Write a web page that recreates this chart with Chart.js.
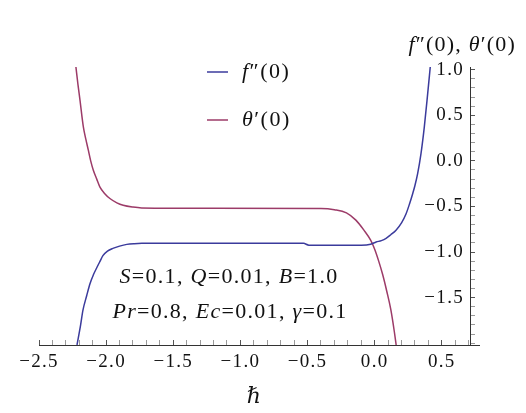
<!DOCTYPE html>
<html>
<head>
<meta charset="utf-8">
<script src="https://cdn.jsdelivr.net/npm/chart.js@4.4.0/dist/chart.umd.min.js"></script>
<style>
html, body { margin: 0; padding: 0; background: #fff; }
#wrap { width: 526px; height: 413px; position: relative; }
</style>
</head>
<body>
<div id="wrap"><canvas id="chart"></canvas></div>
<script>
// values
var seriesNames = ["f''(0)", "θ'(0)"];
var fppX = [-2.217, -2.19, -2.173, -2.145, -2.121, -2.095, -2.069, -2.045, -2.024, -1.99, -1.95, -1.9, -1.846, -1.79, -1.734, -1.2, -0.53, -0.49, -0.1, -0.03, 0.011, 0.05, 0.085, 0.12, 0.159, 0.2, 0.234, 0.26, 0.283, 0.3, 0.32, 0.345, 0.37, 0.395, 0.414];
var fppY = [-2.02, -1.80, -1.64, -1.48, -1.35, -1.25, -1.17, -1.10, -1.04, -0.99, -0.96, -0.935, -0.916, -0.908, -0.905, -0.903, -0.905, -0.925, -0.925, -0.915, -0.89, -0.875, -0.85, -0.81, -0.76, -0.68, -0.58, -0.47, -0.36, -0.27, -0.14, 0.08, 0.376, 0.74, 1.03];
var thetaX = [-2.225, -2.21, -2.195, -2.17, -2.15, -2.133, -2.115, -2.096, -2.07, -2.047, -2.01, -1.972, -1.92, -1.873, -1.8, -1.736, -1.2, -0.4, -0.3, -0.21, -0.14, -0.08, -0.03, 0.0, 0.03, 0.06, 0.09, 0.12, 0.147, 0.16];
var thetaY = [1.03, 0.84, 0.67, 0.376, 0.23, 0.12, 0.0, -0.10, -0.2, -0.285, -0.36, -0.413, -0.46, -0.487, -0.507, -0.516, -0.52, -0.522, -0.535, -0.57, -0.65, -0.76, -0.87, -0.97, -1.10, -1.25, -1.43, -1.63, -1.88, -2.02];
var xMajor = [-2.5, -2.0, -1.5, -1.0, -0.5, 0.0, 0.5];
var yMajor = [-1.5, -1.0, -0.5, 0.0, 0.5, 1.0];

var SERIF = '"Liberation Serif", "DejaVu Serif", serif';
var BLUE = '#3b3b9c';
var RED = '#9c3b68';

function pts(xs, ys) {
  return xs.map(function (x, i) { return {x: x, y: ys[i]}; });
}
function isMajor(list, v) {
  return list.some(function (m) { return Math.abs(m - v) < 1e-6; });
}
function fmt(v) {
  var s = Math.abs(v).toFixed(1);
  return v < -1e-9 ? '\u2212' + s : s;
}

// mixed italic / upright text
function rich(ctx, parts, x, y, size, align, spacing) {
  ctx.letterSpacing = spacing + 'px';
  var w = 0;
  parts.forEach(function (p) {
    ctx.font = (p[1] ? 'italic ' : '') + size + 'px ' + SERIF;
    w += ctx.measureText(p[0]).width;
  });
  var cx = align === 'center' ? x - w / 2 : (align === 'right' ? x - w : x);
  ctx.textAlign = 'left';
  ctx.textBaseline = 'middle';
  ctx.fillStyle = '#111';
  parts.forEach(function (p) {
    ctx.font = (p[1] ? 'italic ' : '') + size + 'px ' + SERIF;
    ctx.fillText(p[0], cx, y);
    cx += ctx.measureText(p[0]).width;
  });
}

var labelsPlugin = {
  id: 'labels',
  beforeDraw: function (chart) {
    // wider set for the tick numbers
    chart.ctx.letterSpacing = '1.3px';
  },
  afterDraw: function (chart) {
    var ctx = chart.ctx, a = chart.chartArea;
    ctx.save();
    // x axis runs a little past the vertical axis
    ctx.strokeStyle = '#333';
    ctx.lineWidth = 1;
    ctx.beginPath();
    ctx.moveTo(a.right, a.bottom + 0.5);
    ctx.lineTo(a.right + 10, a.bottom + 0.5);
    ctx.stroke();

    // legend
    var legendParts = [[['f', 1], ['\u2033(0)', 0]], [['\u03b8', 1], ['\u2032(0)', 0]]];
    chart.data.datasets.forEach(function (ds, i) {
      var ly = 72 + i * 48;
      ctx.strokeStyle = ds.borderColor;
      ctx.lineWidth = 1.5;
      ctx.beginPath();
      ctx.moveTo(207, ly);
      ctx.lineTo(228, ly);
      ctx.stroke();
      rich(ctx, legendParts[i], 242, ly, 22, 'left', 1.5);
    });

    // axis title above vertical axis
    rich(ctx, [['f', 1], ['\u2033(0), ', 0], ['\u03b8', 1], ['\u2032(0)', 0]], 516, 45, 22, 'right', 1.2);

    // parameter notes
    rich(ctx, [['S', 1], ['=0.1, ', 0], ['Q', 1], ['=0.01, ', 0], ['B', 1], ['=1.0', 0]], 229, 277, 22, 'center', 1.3);
    rich(ctx, [['Pr', 1], ['=0.8, ', 0], ['Ec', 1], ['=0.01, ', 0], ['\u03b3', 1], ['=0.1', 0]], 230, 312, 22, 'center', 1.3);
    ctx.restore();
  }
};

new Chart(document.getElementById('chart'), {
  type: 'scatter',
  data: {
    datasets: [{
      label: seriesNames[0],
      data: pts(fppX, fppY),
      showLine: true,
      borderColor: BLUE,
      borderWidth: 1.5,
      pointRadius: 0,
      cubicInterpolationMode: 'monotone'
    }, {
      label: seriesNames[1],
      data: pts(thetaX, thetaY),
      showLine: true,
      borderColor: RED,
      borderWidth: 1.5,
      pointRadius: 0,
      cubicInterpolationMode: 'monotone'
    }]
  },
  options: {
    responsive: true,
    maintainAspectRatio: false,
    animation: false,
    layout: { padding: { left: 39, top: 67, right: 56, bottom: 4 } },
    plugins: { legend: { display: false }, tooltip: { enabled: false } },
    scales: {
      x: {
        type: 'linear',
        position: 'bottom',
        min: -2.5,
        max: 0.71,
        border: { display: true, color: '#333', width: 1 },
        grid: {
          drawOnChartArea: false,
          tickLength: -5,
          tickColor: '#555',
          tickWidth: function (c) { return isMajor(xMajor, c.tick.value) ? 1 : 0.6; }
        },
        ticks: {
          stepSize: 0.1,
          includeBounds: false,
          autoSkip: false,
          maxRotation: 0,
          padding: 11,
          color: '#111',
          font: { family: SERIF, size: 19 },
          callback: function (v) { return isMajor(xMajor, v) ? fmt(v) : ''; }
        },
        title: {
          display: true,
          text: '\u210f',
          color: '#111',
          font: { family: SERIF, size: 22, style: 'italic', lineHeight: 1.1 },
          padding: { top: 0, bottom: 0 }
        }
      },
      y: {
        type: 'linear',
        position: 'right',
        min: -2.02,
        max: 1.03,
        border: { display: true, color: '#333', width: 1 },
        grid: {
          drawOnChartArea: false,
          tickLength: 5,
          tickColor: '#555',
          tickWidth: function (c) { return isMajor(yMajor, c.tick.value) ? 1 : 0.6; }
        },
        ticks: {
          stepSize: 0.1,
          includeBounds: false,
          autoSkip: false,
          mirror: true,
          padding: -6,
          color: '#111',
          font: { family: SERIF, size: 19 },
          callback: function (v) { return isMajor(yMajor, v) ? fmt(v) : ''; }
        }
      }
    }
  },
  plugins: [labelsPlugin]
});
</script>
</body>
</html>
